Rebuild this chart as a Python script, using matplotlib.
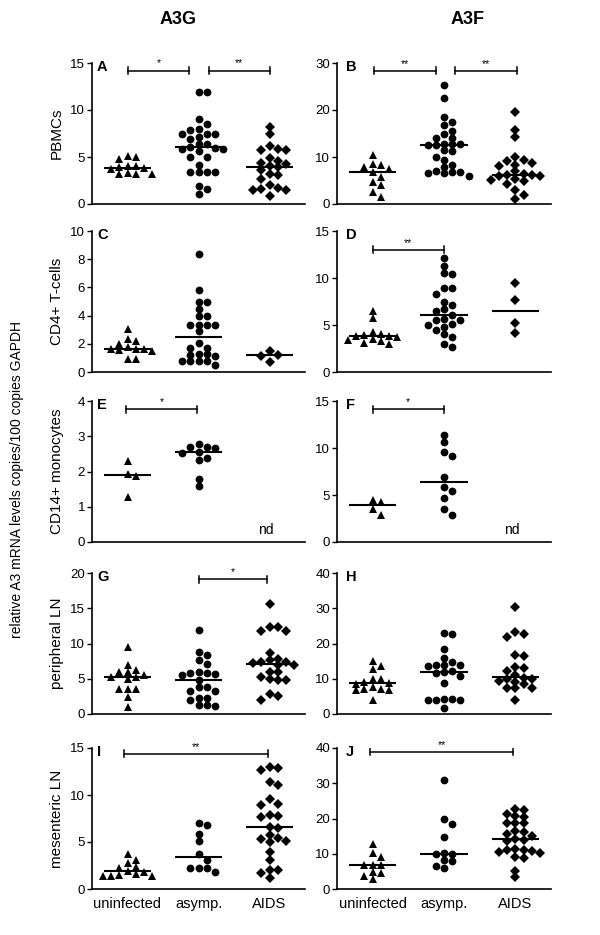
import numpy as np
import matplotlib
matplotlib.use("Agg")
import matplotlib.pyplot as plt

plt.rcParams['font.family'] = ['Liberation Sans', 'DejaVu Sans']

# ---------------- data ----------------
groups = ['uninfected', 'asymp.', 'AIDS']
col_titles = ['A3G', 'A3F']
row_labels = ['PBMCs', 'CD4+ T-cells', 'CD14+ monocytes', 'peripheral LN', 'mesenteric LN']
big_ylabel = 'relative A3 mRNA levels copies/100 copies GAPDH'

# A: PBMCs A3G
A_uninf = [5.0, 5.1, 4.8, 3.7, 4.0, 4.0, 3.9, 3.85, 3.2, 3.2, 3.2, 3.3]
A_asymp = [11.9, 11.9, 9.0, 8.5, 8.0, 7.9, 7.4, 7.4, 7.4, 7.1, 6.9, 6.4, 6.4, 6.1, 6.0,
           5.9, 5.8, 5.6, 5.0, 5.0, 4.1, 3.4, 3.4, 3.4, 3.4, 1.9, 1.6, 1.05]
A_aids = [8.2, 7.4, 6.2, 5.9, 5.7, 5.7, 4.9, 4.6, 4.4, 4.3, 4.0, 3.9, 3.6, 3.2, 3.1,
          2.7, 2.0, 1.7, 1.6, 1.5, 1.5, 0.9]
A_yticks = [0, 5, 10, 15]
# B: PBMCs A3F
B_uninf = [10.4, 8.6, 8.4, 7.9, 7.5, 6.8, 5.8, 4.7, 4.0, 2.6, 1.5]
B_asymp = [25.3, 22.5, 18.6, 17.4, 16.8, 15.6, 14.8, 14.1, 14.0, 12.8, 12.7, 12.7, 12.6,
           12.6, 11.4, 11.3, 10.1, 9.3, 8.2, 7.9, 7.0, 6.8, 6.8, 6.6, 6.5, 6.0]
B_aids = [19.5, 15.8, 14.2, 9.9, 9.3, 9.1, 8.8, 8.4, 8.0, 7.0, 6.3, 6.1, 6.1, 6.0, 5.9,
          5.4, 5.1, 4.9, 4.2, 3.0, 2.0, 1.0]
B_yticks = [0, 10, 20, 30]
# C: CD4+ T-cells A3G
C_uninf = [3.05, 2.35, 2.2, 2.0, 1.75, 1.65, 1.6, 1.6, 1.55, 1.5, 0.95, 0.9]
C_asymp = [8.4, 5.8, 5.0, 5.0, 4.5, 4.0, 4.0, 3.35, 3.35, 3.35, 3.35, 2.9, 2.05, 1.7,
           1.7, 1.3, 1.25, 1.2, 1.1, 0.75, 0.75, 0.75, 0.75, 0.5]
C_aids = [1.5, 1.2, 1.15, 0.7]
C_yticks = [0, 2, 4, 6, 8, 10]
# D: CD4+ T-cells A3F
D_uninf = [6.5, 5.7, 4.25, 4.05, 3.9, 3.85, 3.8, 3.75, 3.5, 3.4, 3.25, 3.05, 3.0]
D_asymp = [12.1, 11.3, 10.5, 10.4, 8.9, 8.9, 8.35, 7.4, 7.1, 6.7, 6.5, 6.1, 5.6, 5.5,
           5.5, 5.1, 5.0, 4.75, 4.5, 4.05, 3.7, 3.0, 2.7]
D_aids = [9.5, 7.7, 5.2, 4.2]
D_yticks = [0, 5, 10, 15]
# E: CD14+ monocytes A3G
E_uninf = [2.3, 1.93, 1.87, 1.29]
E_asymp = [2.79, 2.7, 2.7, 2.67, 2.56, 2.53, 2.39, 2.34, 1.8, 1.6]
E_aids = []
E_yticks = [0, 1, 2, 3, 4]
# F: CD14+ monocytes A3F
F_uninf = [4.48, 4.3, 3.53, 2.9]
F_asymp = [11.36, 10.65, 9.6, 9.14, 6.9, 5.8, 5.47, 4.7, 3.5, 2.9]
F_aids = []
F_yticks = [0, 5, 10, 15]
# G: peripheral LN A3G
G_uninf = [9.5, 6.9, 6.2, 6.0, 6.0, 5.6, 5.3, 5.2, 4.9, 3.6, 3.6, 3.5, 2.4, 1.05]
G_asymp = [11.9, 8.8, 8.4, 7.6, 7.1, 6.0, 5.85, 5.85, 5.7, 5.5, 4.8, 3.8, 3.8, 3.2, 3.2,
           2.3, 2.3, 2.05, 1.33, 1.3, 1.2]
G_aids = [15.6, 12.4, 12.3, 11.8, 11.8, 8.6, 7.85, 7.7, 7.4, 7.4, 7.3, 7.0, 6.9, 5.9, 5.9,
          5.3, 5.0, 4.8, 4.8, 2.85, 2.5, 2.05]
G_yticks = [0, 5, 10, 15, 20]
# H: peripheral LN A3F
H_uninf = [14.9, 13.5, 12.8, 9.9, 9.8, 9.2, 8.8, 8.6, 7.8, 7.1, 7.0, 6.8, 6.8, 4.0]
H_asymp = [23.0, 22.6, 18.3, 15.8, 14.7, 14.0, 14.0, 13.9, 13.5, 12.3, 11.8, 11.5, 10.8,
           8.7, 4.3, 4.2, 4.0, 3.9, 3.9, 1.7]
H_aids = [30.3, 23.2, 22.7, 21.8, 16.6, 16.5, 13.2, 13.0, 12.2, 11.0, 10.2, 10.0, 9.8,
          9.5, 9.2, 8.4, 7.4, 7.3, 7.3, 4.1]
H_yticks = [0, 10, 20, 30, 40]
# I: mesenteric LN A3G
I_uninf = [3.7, 3.1, 2.8, 2.3, 2.2, 1.9, 1.85, 1.6, 1.45, 1.4, 1.4, 1.35]
I_asymp = [7.0, 6.8, 5.85, 5.14, 3.7, 3.08, 2.27, 2.27, 2.27, 1.77]
I_aids = [12.94, 12.84, 12.66, 11.35, 11.06, 9.57, 9.04, 8.94, 7.87, 7.80, 7.63, 6.6, 6.5,
          5.74, 5.39, 5.28, 5.1, 4.96, 3.97, 3.08, 2.02, 2.02, 1.67, 1.13]
I_yticks = [0, 5, 10, 15]
# J: mesenteric LN A3F
J_uninf = [12.9, 10.1, 9.2, 6.9, 6.8, 6.7, 4.9, 4.6, 3.8, 2.7]
J_asymp = [30.8, 20.0, 18.3, 14.8, 10.1, 9.9, 9.8, 8.1, 8.0, 6.6, 5.9]
J_aids = [22.6, 22.5, 21.2, 20.7, 20.5, 18.8, 18.6, 18.6, 16.5, 16.3, 15.6, 15.0, 14.15,
          14.0, 13.6, 11.3, 11.2, 11.2, 10.8, 10.5, 10.2, 9.1, 8.8, 5.2, 3.3]
J_yticks = [0, 10, 20, 30, 40]

# significance brackets: (from x, to x, y level, label)
A_brackets = [(0.5, 1.37, 14.2, '*'), (1.65, 2.5, 14.2, '**')]
B_brackets = [(0.52, 1.39, 28.3, '**'), (1.66, 2.52, 28.3, '**')]
C_brackets = []
D_brackets = [(0.5, 1.5, 13.0, '**')]
E_brackets = [(0.48, 1.48, 3.77, '*')]
F_brackets = [(0.5, 1.5, 14.1, '*')]
G_brackets = [(1.51, 2.47, 19.1, '*')]
H_brackets = []
I_brackets = [(0.45, 2.48, 14.4, '**')]
J_brackets = [(0.46, 2.47, 38.9, '**')]

panels = [
    ('A', [A_uninf, A_asymp, A_aids], A_yticks, A_brackets),
    ('B', [B_uninf, B_asymp, B_aids], B_yticks, B_brackets),
    ('C', [C_uninf, C_asymp, C_aids], C_yticks, C_brackets),
    ('D', [D_uninf, D_asymp, D_aids], D_yticks, D_brackets),
    ('E', [E_uninf, E_asymp, E_aids], E_yticks, E_brackets),
    ('F', [F_uninf, F_asymp, F_aids], F_yticks, F_brackets),
    ('G', [G_uninf, G_asymp, G_aids], G_yticks, G_brackets),
    ('H', [H_uninf, H_asymp, H_aids], H_yticks, H_brackets),
    ('I', [I_uninf, I_asymp, I_aids], I_yticks, I_brackets),
    ('J', [J_uninf, J_asymp, J_aids], J_yticks, J_brackets),
]

# ---------------- layout ----------------
W, H = 600, 935
fig = plt.figure(figsize=(W / 100, H / 100), dpi=100)
col_x = [92, 337]
col_w = [213, 214]
row_top = [63, 231, 401, 573, 748]
ax_h = 141
markers = ['^', 'o', 'D']
msizes = [5.6, 5.6, 4.6]


def swarm_offsets(vals, ypx, step=8.2, mind=6.2):
    order = np.argsort(-np.asarray(vals))
    placed = []
    offs = np.zeros(len(vals))
    seq = [0]
    for k in range(1, 10):
        seq += [k, -k]
    for i in order:
        v = vals[i]
        for k in seq:
            xo = k * step
            ok = True
            for (px, pv) in placed:
                if (xo - px) ** 2 + ((v - pv) * ypx) ** 2 < mind ** 2:
                    ok = False
                    break
            if ok:
                break
        placed.append((xo, v))
        offs[i] = xo
    return offs


for idx, (letter, data, yt, brackets) in enumerate(panels):
    r, c = divmod(idx, 2)
    left = col_x[c] / W
    bottom = 1 - (row_top[r] + ax_h) / H
    ax = fig.add_axes([left, bottom, col_w[c] / W, ax_h / H])
    ymax = yt[-1]
    ax.set_xlim(0, 3)
    ax.set_ylim(0, ymax)
    ypx = ax_h / ymax
    xpx = col_w[c] / 3
    for g, vals in enumerate(data):
        xc = g + 0.5
        if len(vals) == 0:
            continue
        offs = swarm_offsets(vals, ypx)
        ax.plot(xc + offs / xpx, vals, linestyle='none', marker=markers[g],
                markersize=msizes[g], color='black', markeredgewidth=0, clip_on=False)
        med = np.median(vals)
        ax.plot([xc - 0.33, xc + 0.33], [med, med], color='black', lw=1.5,
                solid_capstyle='butt')
    for (x1, x2, yb, lab) in brackets:
        cap = 3.5 / ypx
        ax.plot([x1, x2], [yb, yb], color='black', lw=1.1)
        ax.plot([x1, x1], [yb - cap, yb + cap], color='black', lw=1.1)
        ax.plot([x2, x2], [yb - cap, yb + cap], color='black', lw=1.1)
        ax.text((x1 + x2) / 2, yb + 2.0 / ypx, lab, ha='center', va='bottom',
                fontsize=7.5)
    if letter in ('E', 'F'):
        ax.text(2.45, [0.35, 1.23][c], 'nd', ha='center', va='center', fontsize=10)
    ax.set_yticks(yt)
    ax.tick_params(axis='y', direction='out', length=3.5, width=1.0, pad=1.5,
                   labelsize=9.5)
    for s in ('top', 'right'):
        ax.spines[s].set_visible(False)
    for s in ('left', 'bottom'):
        ax.spines[s].set_linewidth(1.2)
    if r == 4:
        ax.set_xticks([0.5, 1.5, 2.5])
        ax.set_xticklabels(groups, fontsize=10.5)
        ax.tick_params(axis='x', length=0, pad=6)
    else:
        ax.set_xticks([])
    ax.annotate(letter, xy=(0, 1), xycoords='axes fraction',
                xytext=([3.6, 6.5][c], 2.5), textcoords='offset points',
                ha='left', va='top', fontsize=10.5, fontweight='bold')
    if c == 0:
        fig.text(57 / W, 1 - (row_top[r] + ax_h / 2) / H, row_labels[r],
                 rotation=90, ha='center', va='center', fontsize=11)

fig.text(178 / W, 1 - 20 / H, col_titles[0], ha='center', va='center',
         fontsize=13, fontweight='bold')
fig.text(468 / W, 1 - 20 / H, col_titles[1], ha='center', va='center',
         fontsize=13, fontweight='bold')
fig.text(17 / W, 1 - 480 / H, big_ylabel, rotation=90, ha='center', va='center',
         fontsize=10)

fig.savefig('out.png', dpi=100)
